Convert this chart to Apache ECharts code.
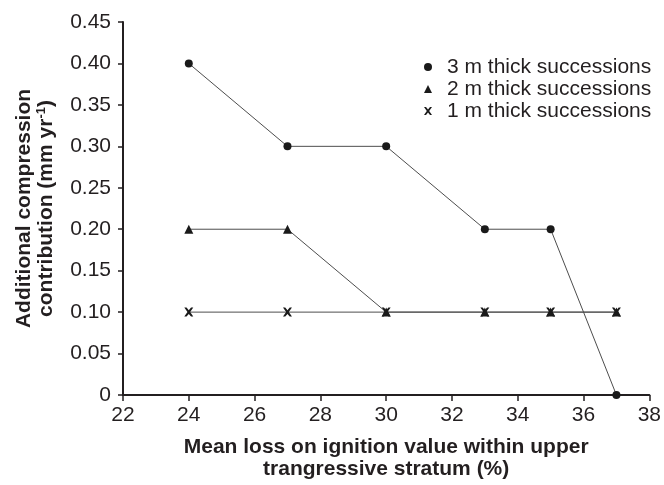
<!DOCTYPE html>
<html>
<head>
<meta charset="utf-8">
<script src="https://cdn.jsdelivr.net/npm/echarts@6/dist/echarts.min.js"></script>
<style>
  html, body { margin: 0; padding: 0; background: #fff; }
  #main { width: 664px; height: 485px; }
</style>
</head>
<body>
<div id="main"></div>
<script>
// data
var loiValues = [24, 27, 30, 33, 35, 37];
var thick3m = [0.40, 0.30, 0.30, 0.20, 0.20, 0];
var thick2m = [0.20, 0.20, 0.10, 0.10, 0.10, 0.10];
var thick1m = [0.10, 0.10, 0.10, 0.10, 0.10, 0.10];
var seriesNames = ["3 m thick successions", "2 m thick successions", "1 m thick successions"];

var crossPath = "path://M0,0 L2.5,0 L5,3 L7.5,0 L10,0 L6.5,5 L10,10 L7.5,10 L5,7 L2.5,10 L0,10 L3.5,5 Z";
var textColor = "#231f20";

function pairs(ys) {
  return loiValues.map(function (x, i) { return [x, ys[i]]; });
}

function lineSeries(name, ys, symbol, size) {
  return {
    name: name,
    type: "line",
    data: pairs(ys),
    symbol: symbol,
    symbolSize: size,
    showAllSymbol: true,
    itemStyle: { color: "#1a1a1a" },
    lineStyle: { color: "#4d4d4d", width: 1 },
    emphasis: { disabled: true },
    animation: false
  };
}

var myChart = echarts.init(document.getElementById("main"));
var option = {
  backgroundColor: "#fff",
  grid: { left: 123, right: 14, top: 22, bottom: 90 },
  legend: {
    orient: "vertical",
    left: 419,
    top: 51,
    itemWidth: 8,
    itemHeight: 8,
    itemGap: 0,
    data: [
      { name: seriesNames[0], icon: "circle" },
      { name: seriesNames[1], icon: "triangle" },
      { name: seriesNames[2], icon: crossPath }
    ],
    textStyle: {
      fontFamily: "Liberation Sans",
      fontSize: 21,
      color: textColor,
      lineHeight: 22,
      padding: [0, 0, 0, 10]
    }
  },
  xAxis: {
    type: "value",
    min: 22,
    max: 38,
    interval: 2,
    name: "Mean loss on ignition value within upper\ntrangressive stratum (%)",
    nameLocation: "middle",
    nameGap: 41,
    nameTextStyle: {
      fontFamily: "Liberation Sans",
      fontWeight: "bold",
      fontSize: 21,
      lineHeight: 22,
      color: textColor
    },
    splitLine: { show: false },
    axisLine: { lineStyle: { color: "#231f20", width: 2 } },
    axisTick: { length: 6, lineStyle: { color: "#231f20", width: 1.5 } },
    axisLabel: {
      margin: 10,
      fontFamily: "Liberation Sans",
      fontSize: 21,
      color: textColor
    }
  },
  yAxis: {
    type: "value",
    min: 0,
    max: 0.45,
    interval: 0.05,
    name: "Additional compression\ncontribution (mm yr{sup|-1})",
    nameLocation: "middle",
    nameGap: 66,
    nameTextStyle: {
      fontFamily: "Liberation Sans",
      fontWeight: "bold",
      fontSize: 21,
      lineHeight: 22,
      color: textColor,
      rich: {
        sup: {
          fontFamily: "Liberation Sans",
          fontWeight: "bold",
          fontSize: 13,
          verticalAlign: "top",
          lineHeight: 14,
          color: textColor
        }
      }
    },
    splitLine: { show: false },
    axisLine: { show: true, lineStyle: { color: "#231f20", width: 2 } },
    axisTick: { show: true, length: 5, lineStyle: { color: "#231f20", width: 1.5 } },
    axisLabel: {
      margin: 12,
      fontFamily: "Liberation Sans",
      fontSize: 21,
      color: textColor,
      formatter: function (v) {
        return v === 0 ? "0" : v.toFixed(2);
      }
    }
  },
  series: [
    lineSeries(seriesNames[0], thick3m, "circle", 8),
    lineSeries(seriesNames[1], thick2m, "triangle", 9),
    lineSeries(seriesNames[2], thick1m, crossPath, 9)
  ]
};
myChart.setOption(option);
</script>
</body>
</html>
